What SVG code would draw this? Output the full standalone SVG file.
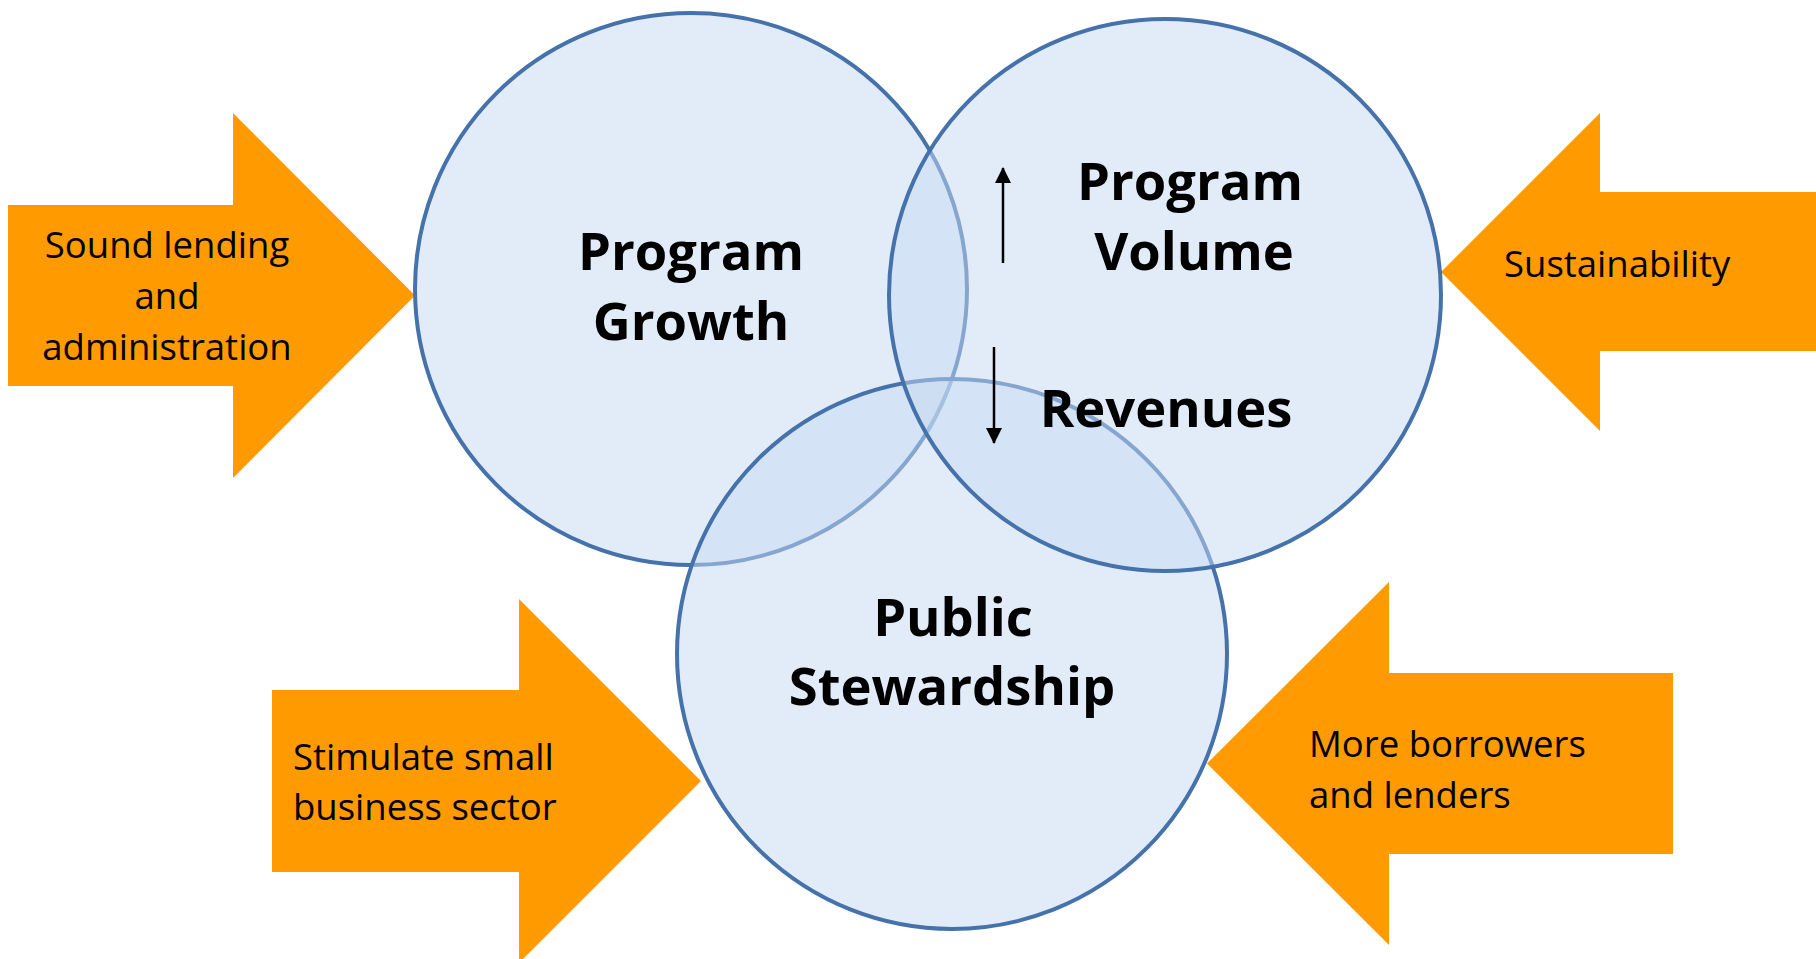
<svg xmlns="http://www.w3.org/2000/svg" width="1816" height="959" viewBox="0 0 1816 959">
<defs>
<style>
.bg{fill:#ffffff}
.circ{fill:rgba(198,217,241,0.5);stroke:#4672ac;stroke-width:4}
.arrow{fill:#ff9a00}
.lbl{font-family:"Open Sans","Liberation Sans",sans-serif;font-size:36.5px;fill:#000}
.big{font-family:"Open Sans","Liberation Sans",sans-serif;font-size:52.5px;font-weight:bold;fill:#000}
.ind{stroke:#000;stroke-width:2.5;fill:none}
</style>
<marker id="ah" markerUnits="userSpaceOnUse" markerWidth="16" markerHeight="16" viewBox="0 0 16 16" refX="15" refY="8" orient="auto">
<path d="M0,0 L16,8 L0,16 Z" fill="#000"/>
</marker>
</defs>
<rect class="bg" x="0" y="0" width="1816" height="959"/>

<g id="arrow-sound-lending">
<polygon class="arrow" points="8,205 233,205 233,113 415,295.5 233,478 233,386 8,386"/>
<text class="lbl" text-anchor="middle"><tspan x="167" y="258">Sound lending</tspan><tspan x="167" y="309">and</tspan><tspan x="167" y="360">administration</tspan></text>
</g>
<g id="arrow-sustainability">
<polygon class="arrow" points="1816,192 1600,192 1600,113 1441,272 1600,431 1600,351 1816,351"/>
<text class="lbl" x="1504" y="277">Sustainability</text>
</g>
<g id="arrow-stimulate">
<polygon class="arrow" points="272,690 519,690 519,599 701,781 519,963 519,872 272,872"/>
<text class="lbl"><tspan x="293" y="770">Stimulate small</tspan><tspan x="293" y="820">business sector</tspan></text>
</g>
<g id="arrow-borrowers">
<polygon class="arrow" points="1673,673 1389,673 1389,582 1207,763.5 1389,945 1389,854 1673,854"/>
<text class="lbl"><tspan x="1309" y="757">More borrowers</tspan><tspan x="1309" y="808">and lenders</tspan></text>
</g>

<g id="circle-program-growth">
<circle class="circ" cx="691" cy="289" r="276"/>
</g>
<g id="circle-public-stewardship">
<circle class="circ" cx="952" cy="654" r="275"/>
</g>
<g id="circle-program-volume">
<circle class="circ" cx="1165" cy="295" r="276"/>
</g>

<g id="label-program-growth">
<text class="big" text-anchor="middle"><tspan x="691" y="270">Program</tspan><tspan x="691" y="340">Growth</tspan></text>
</g>
<g id="label-program-volume">
<text class="big" text-anchor="middle"><tspan x="1190" y="200">Program</tspan><tspan x="1194" y="270">Volume</tspan></text>
</g>
<g id="label-revenues">
<text class="big" text-anchor="middle" x="1166" y="427">Revenues</text>
</g>
<g id="label-public-stewardship">
<text class="big" text-anchor="middle"><tspan x="953" y="636">Public</tspan><tspan x="952" y="705">Stewardship</tspan></text>
</g>

<g id="connectors">
<line class="ind" x1="1003" y1="263" x2="1003" y2="168" marker-end="url(#ah)"/>
<line class="ind" x1="994" y1="347" x2="994" y2="443" marker-end="url(#ah)"/>
</g>
</svg>
